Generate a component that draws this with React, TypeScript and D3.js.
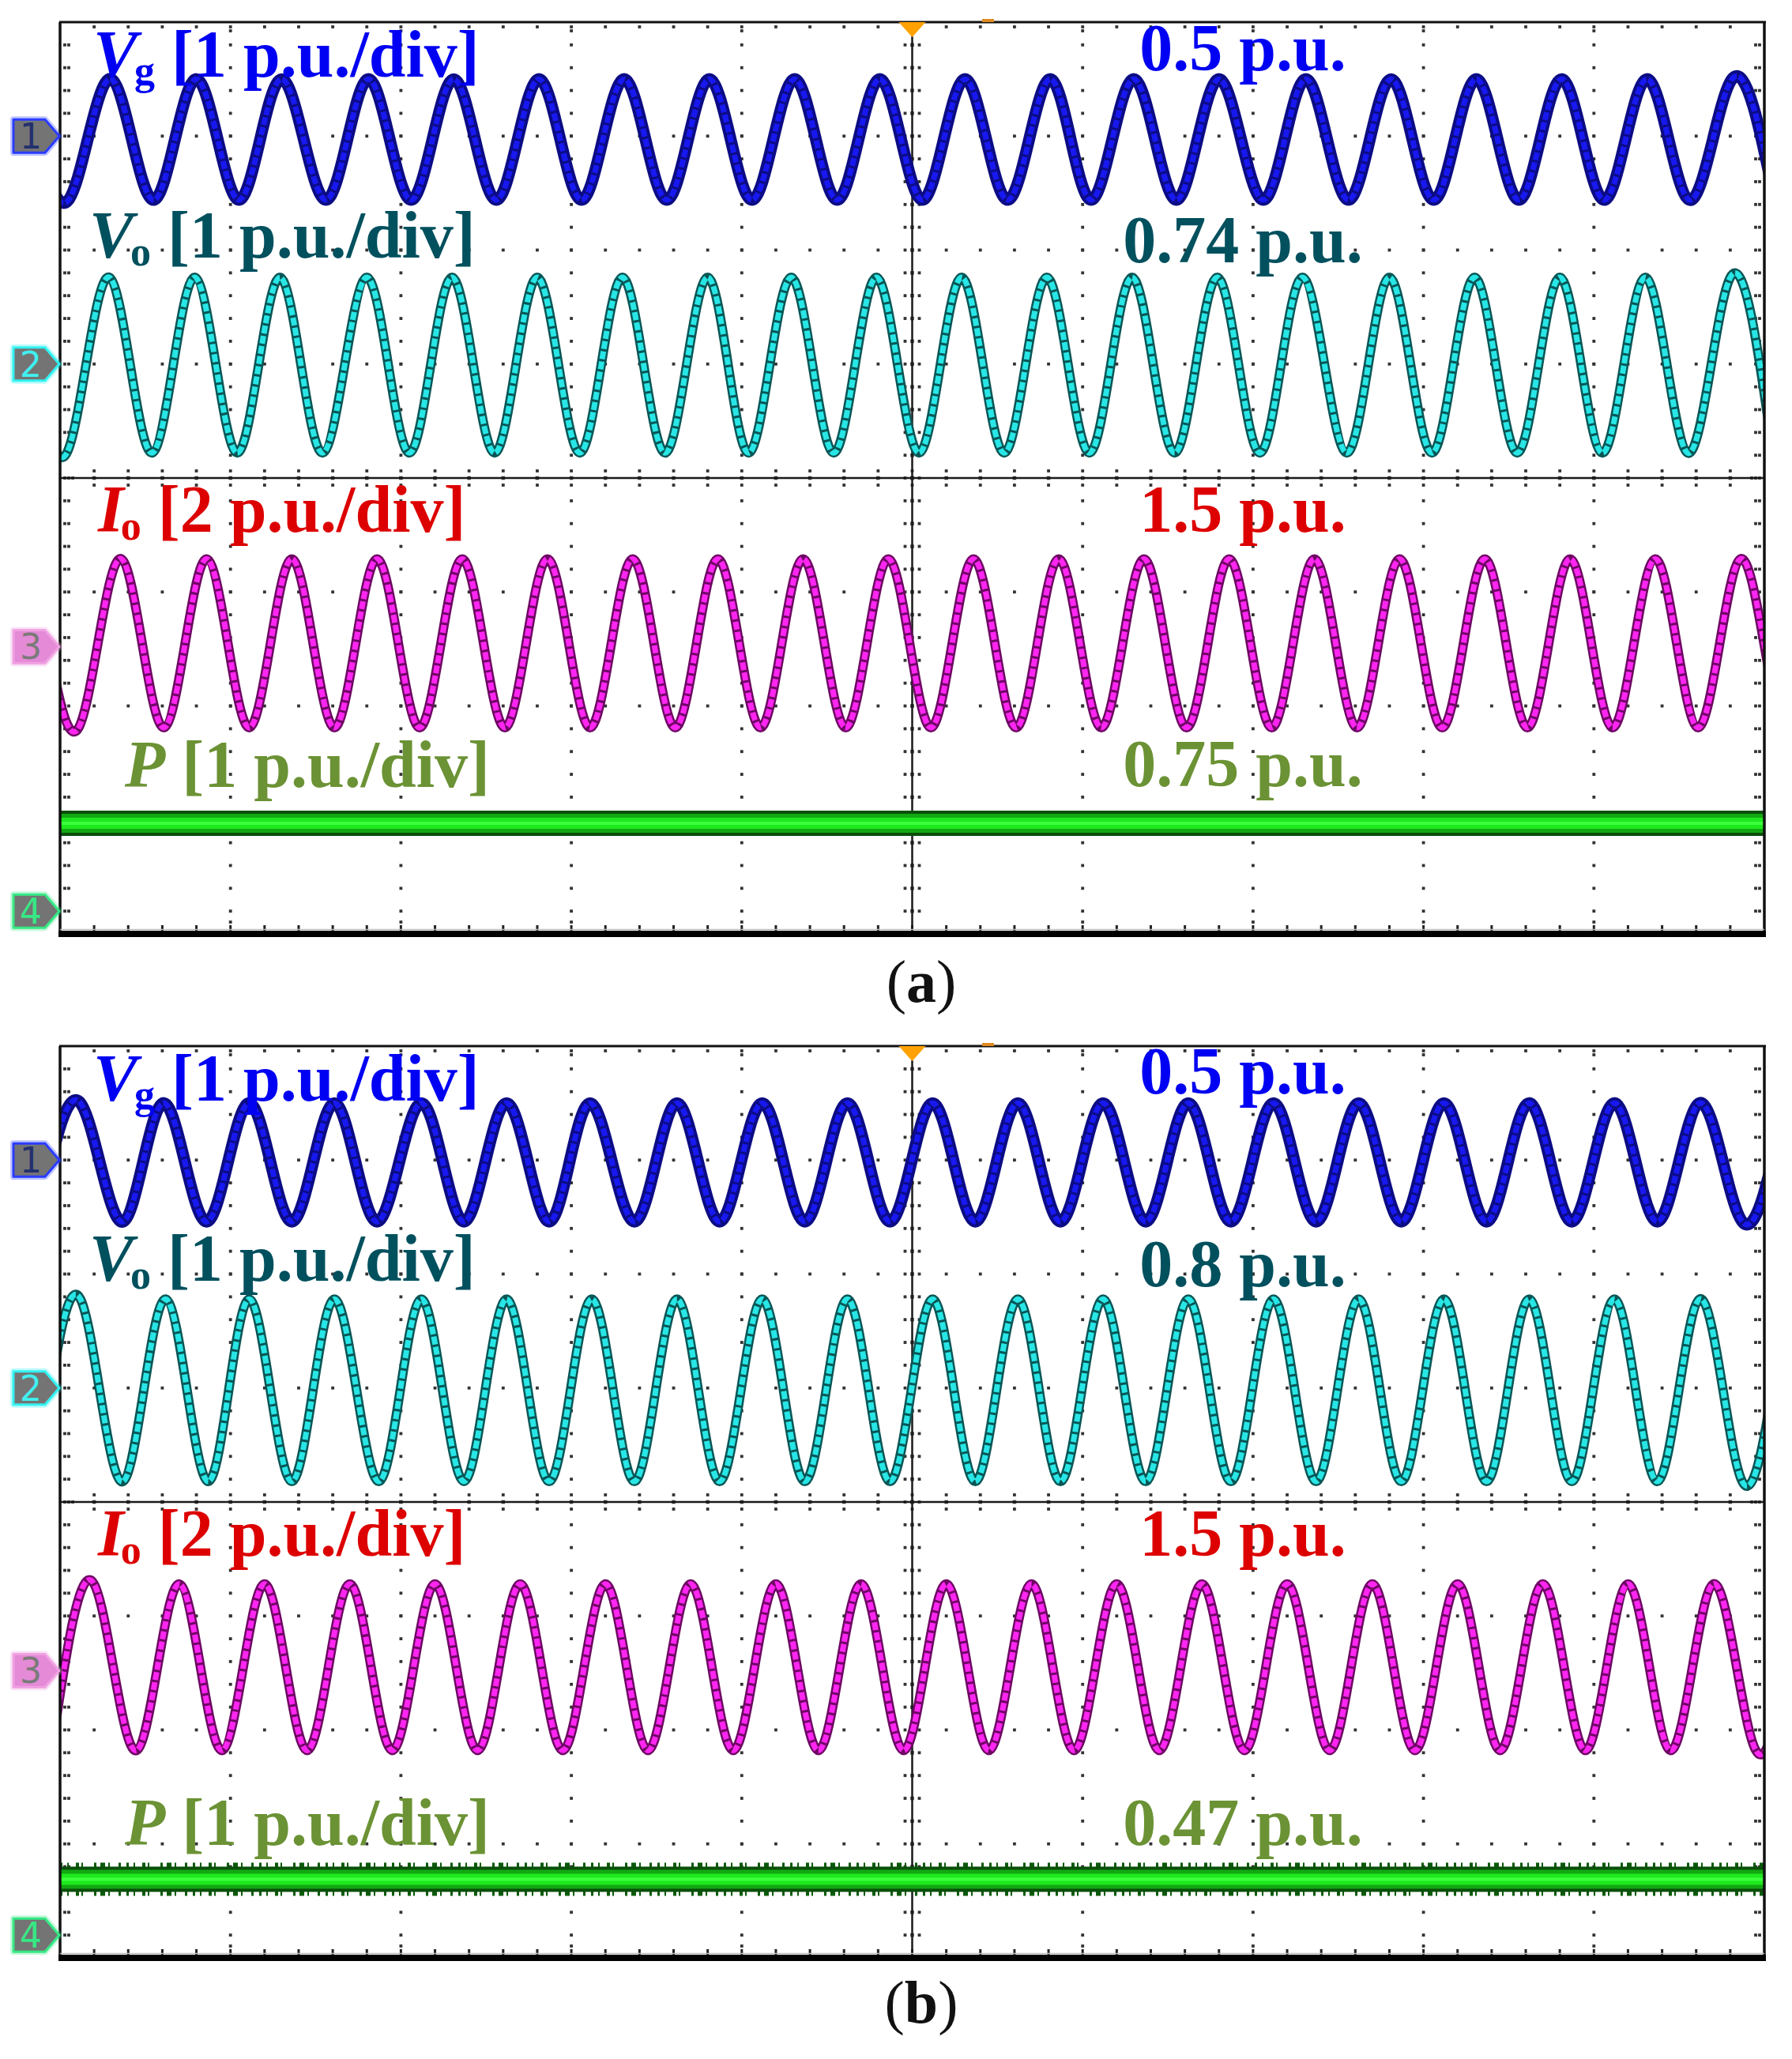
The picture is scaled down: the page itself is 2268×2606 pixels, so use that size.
import * as d3 from 'd3';

// Two scope captures, 10 x 8 divisions each. Times in divisions (0..10),
// levels in divisions from the screen centre.

const captions = ['a', 'b'];

// reference markers of channels 1..4 (div from centre)
const markerLevels = [3, 1, -1.48, -3.8];

const vgPeaksA = [-0.2, 0.3, 0.8, 1.3, 1.81, 2.31, 2.81, 3.31, 3.81, 4.31, 4.81, 5.31, 5.81, 6.3, 6.8, 7.31, 7.81, 8.31, 8.81, 9.31, 9.81];
const vgTroughsA = [0.05, 0.55, 1.05, 1.56, 2.06, 2.56, 3.06, 3.56, 4.06, 4.56, 5.06, 5.56, 6.05, 6.55, 7.06, 7.56, 8.06, 8.56, 9.06, 9.56, 10.06];
const voPeaksA = [-0.21, 0.29, 0.79, 1.29, 1.8, 2.3, 2.8, 3.3, 3.8, 4.29, 4.79, 5.29, 5.79, 6.29, 6.79, 7.29, 7.8, 8.3, 8.8, 9.3, 9.8];
const voTroughsA = [0.04, 0.54, 1.04, 1.54, 2.05, 2.55, 3.05, 3.55, 4.04, 4.54, 5.04, 5.54, 6.04, 6.54, 7.04, 7.55, 8.05, 8.55, 9.05, 9.55, 10.05];
const ioPeaksA = [-0.14, 0.36, 0.86, 1.36, 1.86, 2.36, 2.86, 3.36, 3.86, 4.36, 4.86, 5.36, 5.86, 6.36, 6.86, 7.36, 7.86, 8.36, 8.86, 9.36, 9.86, 10.36];
const ioTroughsA = [0.11, 0.61, 1.11, 1.61, 2.11, 2.61, 3.11, 3.61, 4.11, 4.61, 5.11, 5.61, 6.11, 6.61, 7.11, 7.61, 8.11, 8.61, 9.11, 9.61, 10.11];

// same for capture (b)
const vgPeaksB = [0.12, 0.61, 1.11, 1.61, 2.12, 2.62, 3.11, 3.62, 4.12, 4.62, 5.12, 5.62, 6.12, 6.62, 7.12, 7.62, 8.12, 8.62, 9.12, 9.62, 10.12];
const vgTroughsB = [-0.13, 0.37, 0.86, 1.36, 1.86, 2.37, 2.87, 3.37, 3.87, 4.37, 4.87, 5.37, 5.87, 6.37, 6.87, 7.37, 7.87, 8.37, 8.87, 9.37, 9.87];
const voPeaksB = [0.12, 0.62, 1.11, 1.61, 2.12, 2.62, 3.12, 3.62, 4.12, 4.62, 5.12, 5.62, 6.12, 6.62, 7.12, 7.62, 8.12, 8.62, 9.12, 9.62, 10.12];
const voTroughsB = [-0.13, 0.37, 0.87, 1.36, 1.87, 2.37, 2.87, 3.37, 3.87, 4.37, 4.87, 5.37, 5.87, 6.37, 6.87, 7.37, 7.87, 8.37, 8.87, 9.37, 9.87];
const ioPeaksB = [0.2, 0.7, 1.2, 1.7, 2.2, 2.7, 3.2, 3.7, 4.2, 4.7, 5.2, 5.7, 6.2, 6.7, 7.2, 7.7, 8.2, 8.7, 9.2, 9.7, 10.2];
const ioTroughsB = [-0.05, 0.45, 0.95, 1.45, 1.95, 2.45, 2.95, 3.45, 3.95, 4.45, 4.95, 5.45, 5.95, 6.45, 6.95, 7.45, 7.95, 8.45, 8.95, 9.45, 9.95];

// trace centre and half swing (div) for Vg, Vo, Io
const centresA = [2.97, 0.99, -1.45];
const centresB = [2.98, 0.98, -1.45];
const swingA = [0.53, 0.77, 0.74];
const swingB = [0.52, 0.8, 0.73];

// active power, div above the channel 4 marker
const powerA = 0.77;
const powerB = 0.49;

// label texts
const symbols = ['V', 'V', 'I', 'P'];
const subscripts = ['g', 'o', 'o', ''];
const scales = ['[1 p.u./div]', '[1 p.u./div]', '[2 p.u./div]', '[1 p.u./div]'];
const readingsA = ['0.5 p.u.', '0.74 p.u.', '1.5 p.u.', '0.75 p.u.'];
const readingsB = ['0.5 p.u.', '0.8 p.u.', '1.5 p.u.', '0.47 p.u.'];

const W = 2268;
const H = 2606;
const LEFT = 76;
const RIGHT = 2233;
const TOPS = [28, 1324];
const BOTTOMS = [1182, 2478];

const labelColors = ['#0000f2', '#00505e', '#dd0000', '#6b9234'];
const darkColors = ['#0c0c84', '#0a5656', '#6e0864'];
const brightColors = ['#1818f0', '#28e6e6', '#ff26f2'];
const markerFill = ['#747474', '#747474', '#e48ad6', '#747474'];
const markerEdge = ['#2a3cff', '#33f2f2', '#f0a2e2', '#36e884'];
const markerText = ['#23306e', '#3ff0f0', '#7a7a7a', '#36e884'];

const labelX = [118, 113, 124, 158];
const labelBaseA = [97, 326, 673, 996];
const labelBaseB = [1393, 1621, 1969, 2335];
const readingBaseA = [89, 332, 673, 995];
const readingBaseB = [1384, 1628, 1969, 2335];
const SERIF = "'Liberation Serif', 'Times New Roman', serif";
const FS = 84;

const x = d3.scaleLinear().domain([0, 10]).range([LEFT, RIGHT]);

function tracePath(peaks: number[], troughs: number[], centre: number, swing: number, y: d3.ScaleLinear<number, number>) {
  const pts: [number, number][] = [
    ...peaks.map(t => [t, centre + swing] as [number, number]),
    ...troughs.map(t => [t, centre - swing] as [number, number]),
  ].sort((a, b) => a[0] - b[0]);
  return d3.line<[number, number]>()
    .x(d => x(d[0]))
    .y(d => y(d[1]))
    .curve(d3.curveNatural)(pts) || '';
}

function Graticule({ y }: { y: d3.ScaleLinear<number, number> }) {
  const dots: JSX.Element[] = [];
  const top = y(4);
  const bottom = y(-4);
  const xc = x(5);
  const yc = y(0);
  const dot = (cx: number, cy: number, k: string, s = 3.8) =>
    dots.push(<rect key={k} x={cx - s / 2} y={cy - s / 2} width={s} height={s} fill="#333" />);

  const minorX = d3.range(1, 50).map(i => i / 5);
  const minorY = d3.range(1, 40).map(j => -4 + j / 5);

  // dotted major grid
  [1, 2, 3, 4, 6, 7, 8, 9].forEach(k => minorY.forEach(v => dot(x(k), y(v), `gv${k}_${v}`)));
  [-3, -2, -1, 1, 2, 3].forEach(k => minorX.forEach(t => dot(x(t), y(k), `gh${k}_${t}`)));

  // ticks along the centre cross
  minorX.forEach(t => {
    dot(x(t), yc - 9, `ca${t}`);
    dot(x(t), yc + 9, `cb${t}`);
    dot(x(t), yc, `cc${t}`, 4.5);
  });
  minorY.forEach(v => {
    dot(xc - 9, y(v), `va${v}`);
    dot(xc + 9, y(v), `vb${v}`);
    dot(xc, y(v), `vc${v}`, 4.5);
  });

  // ticks along the frame
  minorY.forEach(v => {
    dot(LEFT + 6, y(v), `l1${v}`);
    dot(LEFT + 11, y(v), `l2${v}`);
    dot(RIGHT - 6, y(v), `r1${v}`);
    dot(RIGHT - 11, y(v), `r2${v}`);
  });
  dot(LEFT + 16, yc, 'l3');
  dot(RIGHT - 16, yc, 'r3');
  minorX.forEach(t => {
    dot(x(t), top + 6, `t${t}`);
    dots.push(<rect key={`b${t}`} x={x(t) - 1.5} y={bottom - 11} width={3} height={7} fill="#222" />);
  });
  [1, 2, 3, 4, 6, 7, 8, 9].forEach(k => {
    dot(x(k), top + 11, `tt${k}`);
    dot(x(k), bottom - 15, `bb${k}`);
  });

  return (
    <g>
      {dots}
      <line x1={LEFT} x2={RIGHT} y1={yc} y2={yc} stroke="#1a1a1a" strokeWidth={2.5} />
      <line x1={xc} x2={xc} y1={top + 18} y2={bottom} stroke="#1a1a1a" strokeWidth={2.5} />
    </g>
  );
}

function Marker({ level, n, y }: { level: number; n: number; y: d3.ScaleLinear<number, number> }) {
  const cy = y(level);
  const tip = LEFT - 1;
  const h = 21;
  const pts = [[17, cy - h], [tip - 18, cy - h], [tip, cy], [tip - 18, cy + h], [17, cy + h]];
  const d = 'M' + pts.map(p => p.join(',')).join('L') + 'Z';
  return (
    <g>
      <path d={d} fill="none" stroke={markerEdge[n]} strokeWidth={8} strokeOpacity={0.3} strokeLinejoin="round" />
      <path d={d} fill={markerFill[n]} stroke={markerEdge[n]} strokeWidth={3} strokeLinejoin="round" />
      <text x={39} y={cy + 16} textAnchor="middle" fontFamily="'DejaVu Sans', sans-serif" fontSize={44} fill={markerText[n]}>
        {n + 1}
      </text>
    </g>
  );
}

function Panel({ p }: { p: number }) {
  const top = TOPS[p];
  const bottom = BOTTOMS[p];
  const y = d3.scaleLinear().domain([-4, 4]).range([bottom, top]);
  const xc = x(5);
  const waves = p === 0
    ? [[vgPeaksA, vgTroughsA], [voPeaksA, voTroughsA], [ioPeaksA, ioTroughsA]]
    : [[vgPeaksB, vgTroughsB], [voPeaksB, voTroughsB], [ioPeaksB, ioTroughsB]];
  const centres = p === 0 ? centresA : centresB;
  const swings = p === 0 ? swingA : swingB;
  const power = p === 0 ? powerA : powerB;
  const readings = p === 0 ? readingsA : readingsB;
  const labelBase = p === 0 ? labelBaseA : labelBaseB;
  const readingBase = p === 0 ? readingBaseA : readingBaseB;
  const clipId = `screen${p}`;
  const pLevel = markerLevels[3] + power;
  const pLine = d3.line<[number, number]>().x(d => x(d[0])).y(d => y(d[1]))([[0, pLevel], [10, pLevel]]) || '';
  const thickness = [15, 12, 12];
  const cores = [7, 7, 7];

  return (
    <g>
      <defs>
        <clipPath id={clipId}>
          <rect x={LEFT} y={top} width={RIGHT - LEFT} height={bottom - top} />
        </clipPath>
      </defs>
      <Graticule y={y} />

      <g clipPath={`url(#${clipId})`}>
        {/* active power band */}
        {p === 1 && (
          <path d={pLine} stroke="#0b5a0b" strokeWidth={42} fill="none"
            strokeDasharray="3 6 2 9 4 3 2 14 3 5 6 4 2 11 3 7" />
        )}
        <path d={pLine} stroke="#0a4f0a" strokeWidth={32} fill="none" />
        <path d={pLine} stroke="#12a812" strokeWidth={24} fill="none" />
        <path d={pLine} stroke="#1ee81e" strokeWidth={14} fill="none" />
        <path d={pLine} stroke="#3cff3c" strokeWidth={4} fill="none" />

        {waves.map(([pk, tr], i) => {
          const d = tracePath(pk, tr, centres[i], swings[i], y);
          return (
            <g key={i}>
              <path d={d} fill="none" stroke={darkColors[i]} strokeWidth={thickness[i]} strokeLinejoin="round" />
              <path d={d} fill="none" stroke={brightColors[i]} strokeWidth={cores[i]} strokeLinejoin="round"
                strokeDasharray="10 3" />
            </g>
          );
        })}
      </g>

      {/* frame */}
      <line x1={LEFT - 1} x2={RIGHT + 2} y1={top} y2={top} stroke="#111" strokeWidth={3} />
      <line x1={LEFT} x2={LEFT} y1={top} y2={bottom} stroke="#111" strokeWidth={3.5} />
      <line x1={RIGHT} x2={RIGHT} y1={top} y2={bottom} stroke="#111" strokeWidth={3.5} />
      <line x1={LEFT - 2} x2={RIGHT + 2} y1={bottom} y2={bottom} stroke="#000" strokeWidth={8} />
      <line x1={LEFT} x2={RIGHT} y1={bottom - 5.5} y2={bottom - 5.5} stroke="#bbb" strokeWidth={1.5} />

      {/* trigger position */}
      <path d={`M${xc - 17},${top}L${xc + 17},${top}L${xc},${top + 19}Z`} fill="#ffa200" />
      <rect x={1243} y={top - 4} width={15} height={4} fill="#e08a20" />

      {markerLevels.map((lv, n) => <Marker key={n} level={lv} n={n} y={y} />)}

      {/* channel labels */}
      {symbols.map((s, i) => (
        <text key={`l${i}`} x={labelX[i]} y={labelBase[i]} fontFamily={SERIF} fontSize={FS}
          fontWeight="bold" fill={labelColors[i]} style={{ whiteSpace: 'pre' }}>
          <tspan fontStyle="italic">{s}</tspan>
          {subscripts[i] ? <tspan fontSize={52} dy={10} dx={-4}>{subscripts[i]}</tspan> : null}
          <tspan dy={subscripts[i] ? -10 : 0}>{' ' + scales[i]}</tspan>
        </text>
      ))}
      {readings.map((r, i) => (
        <text key={`r${i}`} x={1573} y={readingBase[i]} textAnchor="middle" fontFamily={SERIF}
          fontSize={FS} fontWeight="bold" fill={labelColors[i]}>
          {r}
        </text>
      ))}

      <text x={1166} y={p === 0 ? 1268 : 2560} textAnchor="middle" fontFamily={SERIF} fontSize={76} fill="#111">
        (<tspan fontWeight="bold">{captions[p]}</tspan>)
      </text>
    </g>
  );
}

export default function App() {
  return (
    <svg width={W} height={H} style={{ position: 'absolute', left: 0, top: 0, background: '#fff' }}>
      <rect width={W} height={H} fill="#fff" />
      <Panel p={0} />
      <Panel p={1} />
    </svg>
  );
}
